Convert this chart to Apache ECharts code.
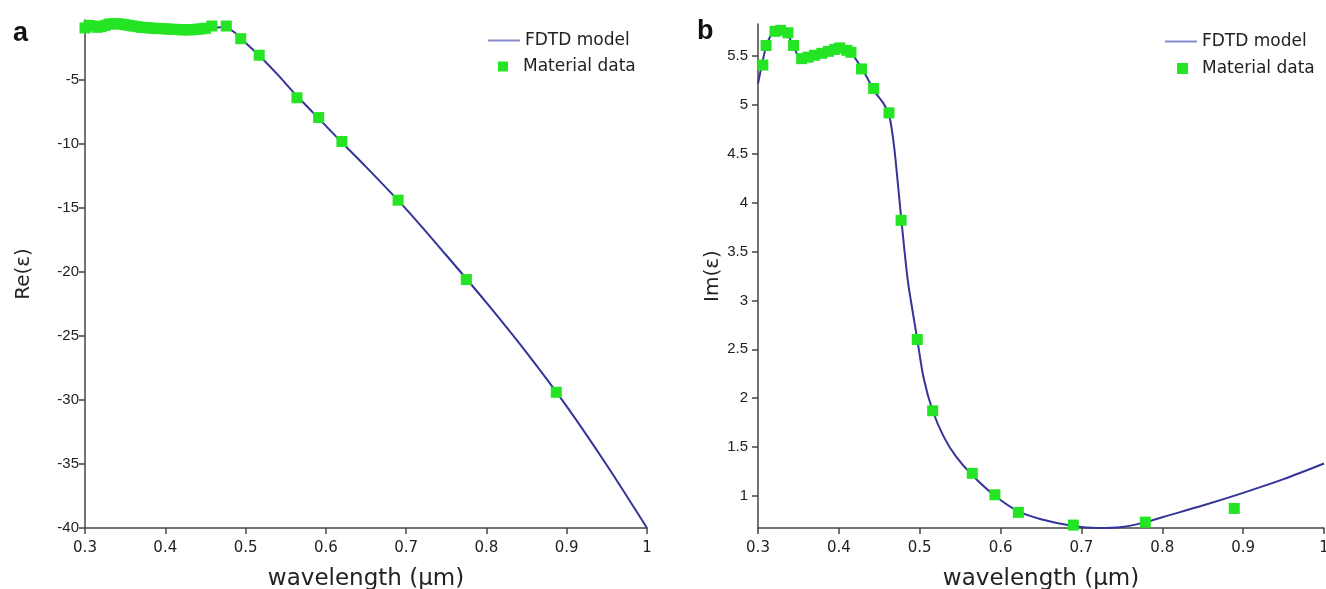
<!DOCTYPE html>
<html>
<head>
<meta charset="utf-8">
<script src="https://cdn.jsdelivr.net/npm/echarts@6/dist/echarts.min.js"></script>
<style>
html,body{margin:0;padding:0;background:#fff;}
#chart{width:1326px;height:589px;}
</style>
</head>
<body>
<div id="chart"></div>
<script>
// ---------- data ----------
const xTicks = [0.3, 0.4, 0.5, 0.6, 0.7, 0.8, 0.9, 1];
const reTicks = [-40, -35, -30, -25, -20, -15, -10, -5];
const imTicks = [1, 1.5, 2, 2.5, 3, 3.5, 4, 4.5, 5, 5.5];

// panel a: Re(eps)
const reMatLambda = [0.300,0.305,0.310,0.315,0.320,0.325,0.330,0.335,0.340,0.345,0.350,0.355,0.360,0.365,0.370,0.375,0.380,0.385,0.390,0.395,0.400,0.405,0.410,0.415,0.420,0.425,0.430,0.435,0.440,0.445,0.450,0.458,0.476,0.494,0.517,0.564,0.591,0.620,0.690,0.775,0.887];
const reMatValue  = [-0.95,-0.75,-0.80,-0.90,-0.85,-0.75,-0.65,-0.62,-0.62,-0.65,-0.70,-0.75,-0.80,-0.85,-0.90,-0.92,-0.95,-0.97,-1.00,-1.00,-1.02,-1.05,-1.05,-1.07,-1.10,-1.10,-1.10,-1.08,-1.05,-1.02,-0.98,-0.80,-0.80,-1.79,-3.08,-6.40,-7.95,-9.82,-14.4,-20.6,-29.4];
const reModLambda = [0.30,0.33,0.36,0.40,0.44,0.47,0.48,0.49,0.50,0.52,0.54,0.56,0.58,0.60,0.62,0.65,0.70,0.75,0.80,0.85,0.90,0.95,1.00];
const reModValue  = [-0.85,-0.70,-0.75,-0.90,-1.00,-0.90,-1.05,-1.50,-2.10,-3.30,-4.60,-6.00,-7.30,-8.60,-9.90,-11.8,-15.1,-18.7,-22.4,-26.3,-30.5,-35.1,-40.0];

// panel b: Im(eps)
const imMatLambda = [0.306,0.310,0.321,0.328,0.337,0.344,0.354,0.362,0.370,0.379,0.387,0.395,0.401,0.410,0.415,0.428,0.443,0.462,0.477,0.497,0.516,0.565,0.593,0.622,0.690,0.779,0.889];
const imMatValue  = [5.41,5.61,5.755,5.765,5.74,5.61,5.475,5.49,5.51,5.53,5.55,5.57,5.585,5.56,5.54,5.37,5.17,4.92,3.82,2.60,1.87,1.23,1.01,0.83,0.70,0.73,0.87];
const imModLambda = [0.300,0.305,0.310,0.315,0.320,0.328,0.335,0.340,0.345,0.350,0.355,0.365,0.375,0.385,0.395,0.405,0.415,0.425,0.435,0.445,0.455,0.462,0.466,0.470,0.477,0.485,0.492,0.497,0.505,0.516,0.530,0.545,0.565,0.593,0.622,0.650,0.690,0.720,0.750,0.780,0.800,0.850,0.900,0.950,1.000];
const imModValue  = [5.22,5.42,5.60,5.70,5.75,5.77,5.74,5.67,5.58,5.50,5.47,5.49,5.52,5.55,5.57,5.57,5.53,5.42,5.28,5.13,5.02,4.90,4.72,4.45,3.85,3.22,2.85,2.60,2.20,1.87,1.60,1.40,1.21,1.00,0.84,0.76,0.69,0.67,0.68,0.73,0.78,0.90,1.03,1.17,1.33];

// ---------- style ----------
const AXIS = '#444';
const TXT = '#222';
const GREEN = '#24e424';
const LINE = '#34349a';
const LEG_LINE = '#8a8ad0';
const pairs = (xs, ys) => xs.map((x, i) => [x, ys[i]]);

function xAx(gi) {
  return {
    type: 'value', gridIndex: gi, min: 0.3, max: 1,
    axisLine: {show: true, onZero: false, lineStyle: {color: AXIS, width: 1.5}},
    axisTick: {show: true, length: 6, customValues: xTicks, lineStyle: {color: AXIS, width: 1.5}},
    axisLabel: {customValues: xTicks, formatter: v => String(+v.toFixed(2)), fontFamily: 'DejaVu Sans', fontSize: 15, color: TXT, margin: 13},
    splitLine: {show: false},
    name: 'wavelength (µm)', nameLocation: 'middle', nameGap: 40,
    nameTextStyle: {fontFamily: 'DejaVu Sans', fontSize: 23, color: TXT}
  };
}
function yAx(gi, min, max, ticks, name, gap, margin) {
  return {
    type: 'value', gridIndex: gi, min: min, max: max,
    axisLine: {show: true, onZero: false, lineStyle: {color: AXIS, width: 1.5}},
    axisTick: {show: true, length: 6, customValues: ticks, lineStyle: {color: AXIS, width: 1.5}},
    axisLabel: {customValues: ticks, formatter: v => String(+v.toFixed(2)), fontFamily: 'Liberation Sans', fontSize: 15, color: TXT, margin: margin},
    splitLine: {show: false},
    name: name, nameLocation: 'middle', nameGap: gap,
    nameTextStyle: {fontFamily: 'DejaVu Sans', fontSize: 20, color: TXT}
  };
}
const legText = {fontFamily: 'DejaVu Sans', fontSize: 17, color: TXT};

const option = {
  animation: false,
  backgroundColor: '#fff',
  grid: [
    {left: 85, top: 20, width: 562, height: 508, outerBoundsMode: 'none', containLabel: false},
    {left: 758, top: 24, width: 566, height: 504, outerBoundsMode: 'none', containLabel: false}
  ],
  xAxis: [xAx(0), xAx(1)],
  yAxis: [
    yAx(0, -40, -0.33, reTicks, 'Re(ε)', 51, 6),
    yAx(1, 0.67, 5.83, imTicks, 'Im(ε)', 34, 10)
  ],
  legend: [
    {data: [{name: 'FDTD model', icon: 'rect', itemStyle: {color: LEG_LINE}}], left: 483, top: 27, itemWidth: 32, itemHeight: 2, textStyle: legText, selectedMode: false},
    {data: [{name: 'Material data', icon: 'rect', itemStyle: {color: GREEN}}], left: 493, top: 53, itemWidth: 10, itemHeight: 10, textStyle: Object.assign({padding: [0,0,0,10]}, legText), selectedMode: false},
    {data: [{name: 'FDTD model', icon: 'rect', itemStyle: {color: LEG_LINE}}], left: 1160, top: 28, itemWidth: 32, itemHeight: 2, textStyle: legText, selectedMode: false},
    {data: [{name: 'Material data', icon: 'rect', itemStyle: {color: GREEN}}], left: 1172, top: 55, itemWidth: 11, itemHeight: 11, textStyle: Object.assign({padding: [0,0,0,9]}, legText), selectedMode: false}
  ],
  graphic: [
    {type: 'text', left: 13, top: 20, style: {text: 'a', font: 'bold 27px "Liberation Sans"', fill: '#111'}},
    {type: 'text', left: 697, top: 18, style: {text: 'b', font: 'bold 27px "Liberation Sans"', fill: '#111'}}
  ],
  series: [
    {name: 'FDTD model', type: 'line', xAxisIndex: 0, yAxisIndex: 0, data: pairs(reModLambda, reModValue), smooth: 0.3, showSymbol: false, symbol: 'none', lineStyle: {color: LINE, width: 2}, itemStyle: {color: LINE}, z: 2},
    {name: 'Material data', type: 'scatter', xAxisIndex: 0, yAxisIndex: 0, data: pairs(reMatLambda, reMatValue), symbol: 'rect', symbolSize: 11, itemStyle: {color: GREEN, opacity: 1}, z: 3},
    {name: 'FDTD model', type: 'line', xAxisIndex: 1, yAxisIndex: 1, data: pairs(imModLambda, imModValue), smooth: 0.3, showSymbol: false, symbol: 'none', lineStyle: {color: LINE, width: 2}, itemStyle: {color: LINE}, z: 2},
    {name: 'Material data', type: 'scatter', xAxisIndex: 1, yAxisIndex: 1, data: pairs(imMatLambda, imMatValue), symbol: 'rect', symbolSize: 11, itemStyle: {color: GREEN, opacity: 1}, z: 3}
  ]
};
const chart = echarts.init(document.getElementById('chart'), null, {renderer: 'canvas'});
chart.setOption(option);
</script>
</body>
</html>
